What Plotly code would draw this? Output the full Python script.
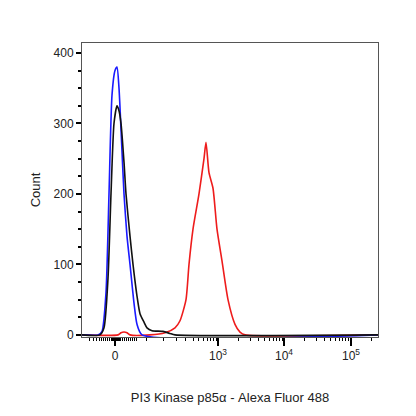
import plotly.graph_objects as go

# x in display (biexponential) channel units; y = count
blue_x = [82, 98, 102, 106, 109, 112, 115, 117, 119, 122, 124, 127, 130, 134, 137, 142, 378]
blue_y = [0, 0, 5, 60, 200, 340, 375, 380, 350, 260, 200, 140, 100, 45, 15, 0, 0]
black_x = [82, 100, 104, 108, 111, 114, 117, 119, 121, 124, 126, 130, 133, 137, 140, 144, 147, 152, 163, 170, 175, 378]
black_y = [0, 0, 10, 80, 200, 300, 325, 318, 300, 245, 200, 140, 100, 55, 30, 18, 10, 6, 5, 2, 0, 0]
red_x = [82, 118, 121, 124, 127, 130, 150, 165, 175, 180, 186, 189, 193, 199, 204, 206, 209, 213, 217, 222, 228, 235, 240, 245, 378]
red_y = [0, 0, 3, 4, 3, 0, 0, 3, 10, 20, 50, 100, 150, 200, 250, 273, 230, 208, 150, 105, 50, 15, 4, 0, 0]

x_major_vals = [115, 218, 284, 351]
x_major_text = ["0", "10<sup>3</sup>", "10<sup>4</sup>", "10<sup>5</sup>"]
x_minor_vals = [89, 93, 96, 99, 101, 103, 105, 107, 109, 111, 112, 113, 114, 116, 117, 118, 119, 120,
                122, 124, 126, 128, 130, 132, 134, 136, 146, 163, 176, 185, 193, 198, 203, 207, 210, 213, 216,
                238, 250, 258, 264, 269, 273, 276, 279, 282,
                304, 316, 324, 330, 335, 339, 342, 345, 348, 371]
y_major = [0, 100, 200, 300, 400]

fig = go.Figure()
for xs, ys, c in [(red_x, red_y, "#ee1c1c"), (blue_x, blue_y, "#1a1aff"), (black_x, black_y, "#111111")]:
    fig.add_trace(go.Scatter(x=xs, y=ys, mode="lines", line=dict(color=c, width=1.6, shape="spline", smoothing=0.6),
                             showlegend=False, hoverinfo="skip"))
fig.add_trace(go.Scatter(x=[82], y=[0], xaxis="x2", mode="markers", marker=dict(opacity=0), showlegend=False, hoverinfo="skip"))

fig.update_layout(
    width=416, height=416, margin=dict(l=74, r=46, t=35, b=87),
    paper_bgcolor="white", plot_bgcolor="white",
    font=dict(family="Liberation Sans, Arial", size=12, color="#222"),
    xaxis=dict(range=[82, 378], tickmode="array", tickvals=x_major_vals, ticktext=x_major_text, automargin=False,
               ticks="outside", ticklen=8, tickwidth=1.5, tickcolor="black", showgrid=False, zeroline=False,
               showline=True, linecolor="#555", linewidth=1, mirror=True,
               title=dict(text="PI3 Kinase p85α - Alexa Fluor 488", font=dict(size=13), standoff=30)),
    xaxis2=dict(range=[82, 378], overlaying="x", side="bottom", tickmode="array", tickvals=x_minor_vals,
                ticktext=[""] * len(x_minor_vals), ticks="outside", ticklen=3, tickcolor="black", automargin=False,
                showgrid=False, zeroline=False, showline=False),
    yaxis=dict(range=[-3, 414], tickmode="array", tickvals=y_major, ticks="outside", ticklen=5, tickwidth=1.5,
               tickcolor="black", showgrid=False, zeroline=False, showline=True, linecolor="#555", linewidth=1,
               mirror=True, minor=dict(dtick=25, ticks="outside", ticklen=3, tickcolor="black"), automargin=False,
               title=dict(text="Count", font=dict(size=13), standoff=10)),
)
fig.write_html("out.html")
